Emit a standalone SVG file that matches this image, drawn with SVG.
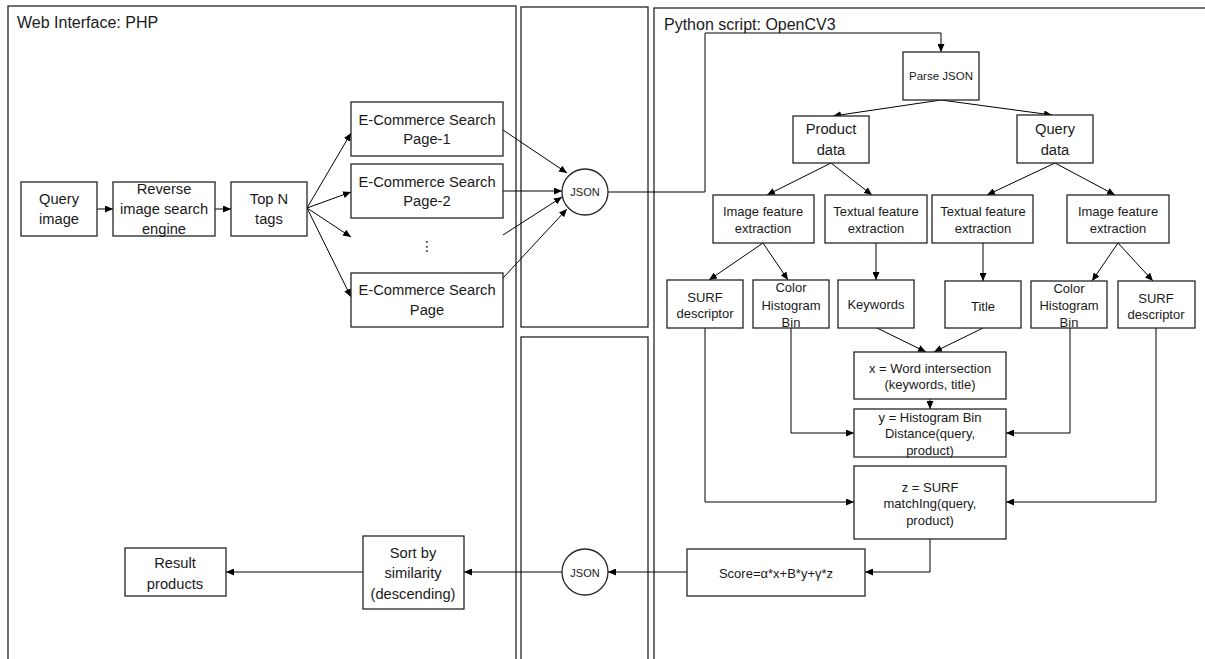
<svg xmlns="http://www.w3.org/2000/svg" width="1205" height="659" viewBox="0 0 1205 659">
<style>
.bg{fill:#fff}
.panel{fill:none;stroke:#262626;stroke-width:1.3}
.box{fill:#fff;stroke:#262626;stroke-width:1.3}
.ln{fill:none;stroke:#000;stroke-width:1}
text{font-family:"Liberation Sans",Arial,sans-serif;fill:#1a1a1a;text-anchor:middle;dominant-baseline:central}
.t15{font-size:14.7px}
.t13{font-size:13px}
.t12{font-size:11.5px}
.t11{font-size:11px}
.title{font-size:16px;text-anchor:start;dominant-baseline:alphabetic}
</style>
<defs>
<marker id="arr" markerWidth="8" markerHeight="7" refX="8" refY="3.5" orient="auto" markerUnits="userSpaceOnUse">
<path d="M0,0 L8,3.5 L0,7 z" fill="#000"/>
</marker>
</defs>
<rect class="bg" x="0" y="0" width="1205" height="659"/>
<g id="panels">
<rect class="panel" x="8" y="6" width="508" height="670"/>
<rect class="panel" x="521" y="7" width="127" height="320"/>
<rect class="panel" x="521" y="337" width="127" height="340"/>
<rect class="panel" x="654" y="8" width="570" height="670"/>
<text class="title" x="17" y="28">Web Interface: PHP</text>
<text class="title" x="664" y="30">Python script: OpenCV3</text>
</g>
<g id="connectors" class="ln" marker-end="url(#arr)">
<path d="M97,209 H113"/>
<path d="M215,209 H231"/>
<path d="M307,208 L351,133"/>
<path d="M307,208 L351,192"/>
<path d="M307,208 L351,237"/>
<path d="M307,208 L351,297"/>
<path d="M503,130 L567,173"/>
<path d="M503,191 H562"/>
<path d="M503,235 L562,197"/>
<path d="M503,278 L567,209"/>
<path d="M608,192 H705 V33 H941 V52"/>
<path d="M941,100 L833,116"/>
<path d="M941,100 L1052,115"/>
<path d="M831,163 L767,195"/>
<path d="M831,163 L872,195"/>
<path d="M1055,163 L987,195"/>
<path d="M1055,163 L1115,195"/>
<path d="M763,243 L709,280"/>
<path d="M763,243 L788,280"/>
<path d="M876,243 V280"/>
<path d="M983,243 V281"/>
<path d="M1118,243 L1092,281"/>
<path d="M1118,243 L1153,281"/>
<path d="M877,328 L926,352"/>
<path d="M983,328 L934,352"/>
<path d="M930,399 V409"/>
<path d="M791,328 V433 H854"/>
<path d="M1070,328 V433 H1006"/>
<path d="M705,328 V502 H854"/>
<path d="M1156,328 V502 H1006"/>
<path d="M930,539 V572 H865"/>
<path d="M687,572 H608"/>
<path d="M562,572 H464"/>
<path d="M363,572 H226"/>
</g>
<g id="n_query"><rect class="box" x="21" y="182" width="76" height="54"/><text class="t15" x="59" y="199">Query</text><text class="t15" x="59" y="219">image</text></g>
<g id="n_reverse"><rect class="box" x="113" y="182" width="102" height="54"/><text class="t15" x="164" y="189">Reverse</text><text class="t15" x="164" y="209">image search</text><text class="t15" x="164" y="229">engine</text></g>
<g id="n_topn"><rect class="box" x="231" y="182" width="76" height="54"/><text class="t15" x="269" y="199">Top N</text><text class="t15" x="269" y="219">tags</text></g>
<g id="n_page1"><rect class="box" x="351" y="102" width="152" height="54"/><text class="t15" x="427" y="120">E-Commerce Search</text><text class="t15" x="427" y="139">Page-1</text></g>
<g id="n_page2"><rect class="box" x="351" y="164" width="152" height="54"/><text class="t15" x="427" y="182">E-Commerce Search</text><text class="t15" x="427" y="201">Page-2</text></g>
<g id="n_ellipsis"><text x="427" y="246" style="font-family:'DejaVu Sans',sans-serif;font-size:14px">⋮</text></g>
<g id="n_pageN"><rect class="box" x="351" y="273" width="152" height="54"/><text class="t15" x="427" y="290">E-Commerce Search</text><text class="t15" x="427" y="310">Page</text></g>
<g id="n_json1"><circle class="box" cx="585" cy="192" r="23"/><text class="t11" x="585" y="192">JSON</text></g>
<g id="n_parse"><rect class="box" x="903" y="52" width="76" height="48"/><text class="t12" x="941" y="76">Parse JSON</text></g>
<g id="n_product"><rect class="box" x="793" y="116" width="76" height="47"/><text class="t15" x="831" y="129">Product</text><text class="t15" x="831" y="150">data</text></g>
<g id="n_querydata"><rect class="box" x="1017" y="115" width="76" height="48"/><text class="t15" x="1055" y="129">Query</text><text class="t15" x="1055" y="150">data</text></g>
<g id="n_imgP"><rect class="box" x="713" y="195" width="101" height="48"/><text class="t13" x="763" y="211">Image feature</text><text class="t13" x="763" y="228">extraction</text></g>
<g id="n_txtP"><rect class="box" x="825" y="195" width="102" height="48"/><text class="t13" x="876" y="211">Textual feature</text><text class="t13" x="876" y="228">extraction</text></g>
<g id="n_txtQ"><rect class="box" x="932" y="195" width="101" height="48"/><text class="t13" x="983" y="211">Textual feature</text><text class="t13" x="983" y="228">extraction</text></g>
<g id="n_imgQ"><rect class="box" x="1067" y="195" width="102" height="48"/><text class="t13" x="1118" y="211">Image feature</text><text class="t13" x="1118" y="228">extraction</text></g>
<g id="n_surfP"><rect class="box" x="667" y="280" width="76" height="48"/><text class="t13" x="705" y="297">SURF</text><text class="t13" x="705" y="313">descriptor</text></g>
<g id="n_colorP"><rect class="box" x="753" y="280" width="76" height="48"/><text class="t13" x="791" y="287">Color</text><text class="t13" x="791" y="305">Histogram</text><text class="t13" x="791" y="322">Bin</text></g>
<g id="n_keywords"><rect class="box" x="838" y="280" width="76" height="48"/><text class="t13" x="876" y="304">Keywords</text></g>
<g id="n_title"><rect class="box" x="945" y="281" width="76" height="47"/><text class="t13" x="983" y="306">Title</text></g>
<g id="n_colorQ"><rect class="box" x="1031" y="281" width="76" height="47"/><text class="t13" x="1069" y="288">Color</text><text class="t13" x="1069" y="305">Histogram</text><text class="t13" x="1069" y="322">Bin</text></g>
<g id="n_surfQ"><rect class="box" x="1118" y="281" width="77" height="47"/><text class="t13" x="1156" y="298">SURF</text><text class="t13" x="1156" y="314">descriptor</text></g>
<g id="n_x"><rect class="box" x="854" y="352" width="152" height="47"/><text class="t13" x="930" y="368">x = Word intersection</text><text class="t13" x="930" y="384">(keywords, title)</text></g>
<g id="n_y"><rect class="box" x="854" y="409" width="152" height="48"/><text class="t13" x="930" y="417">y = Histogram Bin</text><text class="t13" x="930" y="433">Distance(query,</text><text class="t13" x="930" y="450">product)</text></g>
<g id="n_z"><rect class="box" x="854" y="466" width="152" height="73"/><text class="t13" x="930" y="487">z = SURF</text><text class="t13" x="930" y="503">matchIng(query,</text><text class="t13" x="930" y="520">product)</text></g>
<g id="n_score"><rect class="box" x="687" y="549" width="178" height="47"/><text class="t13" x="776" y="573">Score=α*x+B*y+γ*z</text></g>
<g id="n_json2"><circle class="box" cx="585" cy="572" r="23"/><text class="t11" x="585" y="573">JSON</text></g>
<g id="n_sort"><rect class="box" x="363" y="536" width="101" height="73"/><text class="t15" x="413" y="553">Sort by</text><text class="t15" x="413" y="573">similarity</text><text class="t15" x="413" y="594">(descending)</text></g>
<g id="n_result"><rect class="box" x="125" y="548" width="101" height="48"/><text class="t15" x="175" y="563">Result</text><text class="t15" x="175" y="584">products</text></g>
</svg>
